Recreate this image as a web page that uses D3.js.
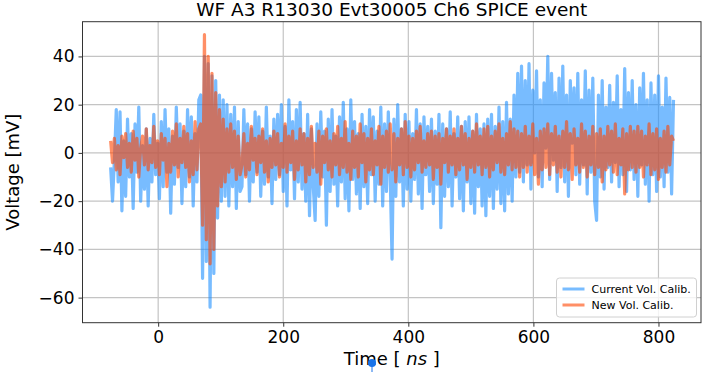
<!DOCTYPE html>
<html lang="en">
<head>
    <meta charset="UTF-8">
    <title>WF A3 R13030 Evt30005 Ch6 SPICE event</title>
    <script src="https://cdn.jsdelivr.net/npm/d3@7"></script>
    <style>
        body { margin: 0; background: #fff; }
        text { font-family: "DejaVu Sans", sans-serif; fill: #000; }
    </style>
</head>
<body>
<svg id="chart" width="714" height="372"></svg>

<script>
    /* global d3 */

    // waveform sampled every 3 ns starting at -76 ns
    var t0 = -76, dt = 3;

    var seriesNames = ["Current Vol. Calib.", "New Vol. Calib."];
    var xTicks = [0, 200, 400, 600, 800];
    var yTicks = [-60, -40, -20, 0, 20, 40];

    // Current Vol. Calib. [mV]
    var currentCalib = [
        -6, -20, -3, 18, -12, 17, -24, 5, -18, 14,
        -10, 8, -23, 12, -8, 19, -20, 3, -15, 10,
        -22, 6, -12, 16, -9, 4, -19, 13, -14, 18,
        -8, 10, -25, 7, -13, 19, -6, 12, -21, 9,
        -14, 18, -10, 15, -22, 8, -12, 22, 24, -52,
        40, -45, 37, -64, 32, -50, 30, -27, 24, -20,
        22, -18, 20, -22, 16, -14, 19, -23, 13, -16,
        -14, 18, -9, 12, -20, 10, -12, 17, -8, 15,
        -18, 9, -13, 19, -10, 7, -21, 14, -11, 16,
        -9, 20, -16, 11, -22, 22, -7, 13, -19, 18,
        -12, 21, -15, 8, -20, 16, -26, 10, -14, -28,
        12, -18, 17, -10, 9, -30, 14, -16, 18, -13,
        7, -22, 15, -12, 21, -19, 10, -24, 22, -11,
        13, -17, 8, -23, 16, -14, 11, -21, 18, -9,
        15, -20, 9, -13, 19, -22, 12, -16, 17, -10,
        -44, 14, -18, 20, -12, 10, -22, 16, -15, 13,
        -20, 8, -11, 18, -17, 12, -23, 15, -9, 11,
        -16, 14, -21, 9, -13, 16, -31, 12, -18, 10,
        -14, 17, -22, 8, -10, 15, -19, 11, -24, 13,
        -12, 15, -21, 9, -25, 16, -14, 10, -22, 12,
        -26, 14, -18, 16, -23, 11, -15, 19, -21, 13,
        -24, 21, -17, 14, -20, 24, -10, 33, -8, 36,
        -12, 30, -5, 37, -15, 26, 0, 34, -10, 22,
        -14, 29, 2, 40, -11, 33, -3, 25, -16, 31,
        -6, 36, -12, 24, -18, 30, 4, 27, -9, 33,
        -13, 22, -5, 34, -17, 26, -8, 31, -20, -28,
        24, -10, 30, -15, 19, -6, 28, -12, 21, -4,
        32, -14, 18, -9, 35, -16, 25, -7, 30, -11,
        20, -18, 27, -5, 33, -13, 22, -20, 29, -9,
        24, -16, 32, -10, 19, -14, 31, -8, 23, -17,
        22
    ];

    // New Vol. Calib. [mV]
    var newCalib = [
        5, -4, 6, -7, 3, -9, 7, -2, 8, -6,
        4, -8, 9, -3, 6, -10, 2, 7, -5, 10,
        -7, 3, -4, 11, -6, 5, -9, 8, -3, 6,
        -14, 4, -8, 9, -5, 12, -10, 6, -4, 11,
        -6, 8, -12, 5, -9, 13, -7, 10, 12, -30,
        49, -36, 40, -46, 33, -40, 25, -22, 18, -14,
        14, -12, 10, -8, 12, -6, 9, -11, 7, -9,
        -5, 8, -10, 4, -7, 11, -3, 6, -9, 7,
        -4, 10, -8, 5, -12, 6, -6, 9, -5, 8,
        -10, 4, -6, 12, -8, 7, -4, 9, -11, 5,
        -7, 10, -5, 8, -12, 6, -9, 11, -6, 4,
        -8, 9, -13, 7, -4, 10, -7, 5, -10, 8,
        -5, 11, -9, 6, -6, 13, -8, 4, -11, 9,
        -6, 7, -10, 12, -4, 8, -12, 6, -7, 10,
        -9, 5, -5, 11, -13, 7, -6, 9, -8, 12,
        -7, 8, -12, 6, -5, 10, -9, 13, -6, 7,
        -10, 6, -7, 9, -4, 11, -8, 5, -6, 8,
        -5, 9, -11, 7, -6, 8, -13, 6, -4, 10,
        -8, 7, -5, 10, -9, 6, -7, 11, -5, 8,
        -11, 6, -6, 9, -8, 12, -5, 7, -9, 10,
        -6, 11, -10, 7, -7, 9, -4, 12, -8, 6,
        -9, 8, -5, 13, -7, 10, -6, 9, -10, 8,
        -6, 11, -8, 7, -5, 12, -9, 6, -13, 9,
        -7, 10, -6, 12, -9, 8, -5, 11, -8, 7,
        -10, 9, -6, 13, -7, 8, -11, 10, -5, 6,
        -8, 12, -6, 9, -10, 7, -5, 11, -9, 8,
        -6, 10, -12, 7, -7, 11, -5, 9, -8, 12,
        -9, 6, -5, 10, -17, 8, -7, 11, -6, 9,
        -8, 11, -6, 9, -10, 7, -5, 12, -9, 8,
        -7, 10, -11, 6, -6, 9, -8, 11, -5, 7,
        5
    ];

    var svg = d3.select("#chart"),
        mLeft = 82.5, mRight = 701, mTop = 21.7, mBottom = 322.7,
        blue = "#1e90ff", orange = "#ff4500",
        fmt = function (d) { return d < 0 ? "\u2212" + Math.abs(d) : "" + d; };

    var x = d3.scaleLinear().domain([-121, 868]).range([mLeft, mRight]),
        y = d3.scaleLinear().domain([-70.4, 54.4]).range([mBottom, mTop]);

    // grid
    svg.append("g").selectAll("line").data(xTicks).enter().append("line")
        .attr("x1", function (d) { return x(d); }).attr("x2", function (d) { return x(d); })
        .attr("y1", mTop).attr("y2", mBottom)
        .attr("stroke", "#c4c4c4").attr("stroke-width", 1.2);
    svg.append("g").selectAll("line").data(yTicks).enter().append("line")
        .attr("x1", mLeft).attr("x2", mRight)
        .attr("y1", function (d) { return y(d); }).attr("y2", function (d) { return y(d); })
        .attr("stroke", "#c4c4c4").attr("stroke-width", 1.2);

    var line = d3.line()
        .x(function (d, i) { return x(t0 + i * dt); })
        .y(function (d) { return y(d); });

    svg.append("path").datum(currentCalib)
        .attr("d", line).attr("fill", "none")
        .attr("stroke", blue).attr("stroke-opacity", 0.6)
        .attr("stroke-width", 3.2).attr("stroke-linejoin", "round");

    svg.append("path").datum(newCalib)
        .attr("d", line).attr("fill", "none")
        .attr("stroke", orange).attr("stroke-opacity", 0.6)
        .attr("stroke-width", 3.2).attr("stroke-linejoin", "round");

    // axes
    var xAxis = svg.append("g").attr("transform", "translate(0," + mBottom + ")")
        .call(d3.axisBottom(x).tickValues(xTicks).tickSize(4).tickPadding(4).tickFormat(fmt));
    var yAxis = svg.append("g").attr("transform", "translate(" + mLeft + ",0)")
        .call(d3.axisLeft(y).tickValues(yTicks).tickSize(4).tickPadding(4).tickFormat(fmt));
    [xAxis, yAxis].forEach(function (a) {
        a.select(".domain").remove();
        a.selectAll("line").attr("stroke", "#333");
        a.selectAll("text").style("font-size", "17px").style("font-family", "DejaVu Sans");
    });

    svg.append("rect")
        .attr("x", mLeft).attr("y", mTop)
        .attr("width", mRight - mLeft).attr("height", mBottom - mTop)
        .attr("fill", "none").attr("stroke", "#333").attr("stroke-width", 1);

    // labels
    svg.append("text").attr("x", (mLeft + mRight) / 2).attr("y", 16)
        .attr("text-anchor", "middle").style("font-size", "18.5px")
        .text("WF A3 R13030 Evt30005 Ch6 SPICE event");

    var xl = svg.append("text").attr("x", (mLeft + mRight) / 2).attr("y", 365)
        .attr("text-anchor", "middle").style("font-size", "18px");
    xl.append("tspan").text("Time [ ");
    xl.append("tspan").style("font-style", "italic").text("ns");
    xl.append("tspan").text(" ]");

    svg.append("text")
        .attr("transform", "translate(19," + (mTop + mBottom) / 2 + ") rotate(-90)")
        .attr("text-anchor", "middle").style("font-size", "18px")
        .text("Voltage [mV]");

    // legend
    var lg = svg.append("g").attr("transform", "translate(556.5,278)");
    lg.append("rect").attr("width", 140).attr("height", 39).attr("rx", 3)
        .attr("fill", "#fff").attr("fill-opacity", 0.8).attr("stroke", "#d0d0d0");
    [blue, orange].forEach(function (c, i) {
        lg.append("line").attr("x1", 6).attr("x2", 28)
            .attr("y1", 11 + i * 16).attr("y2", 11 + i * 16)
            .attr("stroke", c).attr("stroke-opacity", 0.6).attr("stroke-width", 3);
        lg.append("text").attr("x", 35).attr("y", 15 + i * 16)
            .style("font-size", "11px").text(seriesNames[i]);
    });

    // marker below the axis label
    svg.append("line").attr("x1", 372).attr("x2", 372).attr("y1", 363).attr("y2", 372)
        .attr("stroke", "#1a73e8").attr("stroke-width", 1);
    svg.append("circle").attr("cx", 372).attr("cy", 363).attr("r", 4).attr("fill", "#1a73e8");
</script>
</body>
</html>
